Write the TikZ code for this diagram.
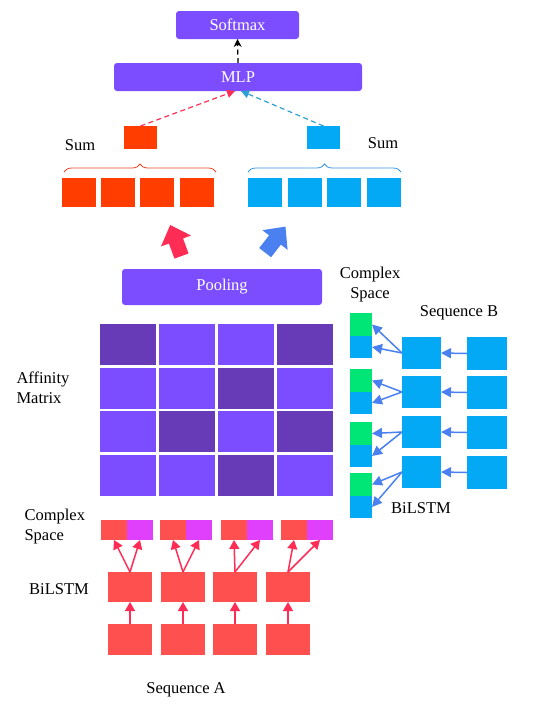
\documentclass[tikz,border=0pt]{standalone}
\usepackage{fontspec}
\setmainfont{Liberation Serif}
\usetikzlibrary{arrows.meta,decorations.pathreplacing}
\definecolor{purpL}{HTML}{7C4DFF}
\definecolor{purpD}{HTML}{673AB7}
\definecolor{sumred}{HTML}{FF3D00}
\definecolor{sumblue}{HTML}{03A9F4}
\definecolor{seqred}{HTML}{FF5050}
\definecolor{magen}{HTML}{E040FB}
\definecolor{grn}{HTML}{00E676}
\definecolor{arrred}{HTML}{FF2D55}
\definecolor{arrblue}{HTML}{4A80F0}
\definecolor{dashblue}{HTML}{2E9FD6}
\definecolor{bracered}{HTML}{E8462A}
\definecolor{braceblue}{HTML}{3A95E0}
\begin{document}
\begin{tikzpicture}[x=1pt,y=-1pt,
 box/.style={inner sep=0pt,outer sep=0pt,anchor=north west},
 bar/.style={box,fill=purpL,rounded corners=3pt,text=white,font=\fontsize{16.5}{18}\selectfont},
 lab/.style={font=\fontsize{16.5}{20}\selectfont},
 dashline/.style={dash pattern=on 5pt off 3.5pt,line width=1.2pt},
 redarr/.style={arrred,line width=1.5pt,-{Triangle[length=9pt,width=10pt]}},
 bluearr/.style={arrblue,line width=1.5pt,-{Triangle[length=10pt,width=10pt]}},
 blockarr/.pic={\fill[pic actions] (0,-17) -- (16,0) -- (7.5,0) -- (7.5,16) -- (-7.5,16) -- (-7.5,0) -- (-16,0) -- cycle;}]
\useasboundingbox (0,0) rectangle (542,705);

% top of the network
\node[bar,minimum width=123pt,minimum height=28pt] (soft) at (176,11) {Softmax};
\node[bar,minimum width=248pt,minimum height=28pt] (mlp) at (114,63) {MLP};
\draw[dashline,-{Stealth[length=8pt,width=8pt]}] (mlp.north) -- (soft.south);

% summed vectors
\node[box,fill=sumred,minimum width=33pt,minimum height=23pt] (sumA) at (124,126) {};
\node[box,fill=sumblue,minimum width=33pt,minimum height=23pt] (sumB) at (307,126) {};
\draw[dashline,arrred,-{Triangle[length=8pt,width=8pt]}] (sumA.north) -- ([xshift=-3pt]mlp.south);
\draw[dashline,dashblue,-{Triangle[length=8pt,width=8pt]}] (sumB.north) -- ([xshift=3pt]mlp.south);
\node[lab] (sumlA) at (80,145) {Sum};
\node[lab] (sumlB) at (383,143) {Sum};

\foreach \x [count=\i] in {62,101,140,180}
  \node[box,fill=sumred,minimum width=34pt,minimum height=29pt] (ra\i) at (\x,178) {};
\foreach \x [count=\i] in {248,288,327,367}
  \node[box,fill=sumblue,minimum width=34pt,minimum height=29pt] (rb\i) at (\x,178) {};
\draw[bracered,line width=0.8pt,decorate,decoration={brace,amplitude=8pt}] ([xshift=2pt,yshift=6pt]ra1.north west) -- ([xshift=2pt,yshift=6pt]ra4.north east);
\draw[braceblue,line width=0.8pt,decorate,decoration={brace,amplitude=8pt}] ([yshift=6pt]rb1.north west) -- ([yshift=6pt]rb4.north east);

% block arrows
\pic[arrred,rotate=20] at (176,241) {blockarr};
\pic[arrblue,rotate=-38] at (275,240) {blockarr};

\node[bar,minimum width=200pt,minimum height=36pt] (pool) at (122,269) {Pooling};

% affinity matrix
\foreach \r/\y/\ca/\cb/\cc/\cd in {1/324/D/L/L/D,2/368/L/L/D/L,3/411/L/D/L/D,4/455/L/L/D/L}
  \foreach \c/\x/\col in {1/100/\ca,2/159/\cb,3/218/\cc,4/277/\cd}
    \node[box,fill=purp\col,minimum width=56pt,minimum height=41pt] (m\r\c) at (\x,\y) {};
\node[lab,anchor=west,align=left] (afflab) at (13,388) {Affinity\\Matrix};

% sequence A
\foreach \x/\xh [count=\i] in {101/108,160/161,221/213,281/266}{
  \node[box,fill=seqred,minimum width=26pt,minimum height=20pt] (ca\i) at (\x,520) {};
  \node[box,fill=magen,minimum width=26pt,minimum height=20pt] (cm\i) at (\x+26,520) {};
  \node[box,fill=seqred,minimum width=44pt,minimum height=30pt] (ha\i) at (\xh,572) {};
  \node[box,fill=seqred,minimum width=44pt,minimum height=31pt] (ia\i) at (\xh,624) {};
  \draw[redarr] (ia\i.north) -- (ha\i.south);
  \draw[redarr] (ha\i.north) -- (ca\i.south);
  \draw[redarr] (ha\i.north) -- (cm\i.south);
}
\node[lab,anchor=west,align=left] (cslA) at (21,527) {Complex\\Space};
\node[lab] (bilA) at (59,589) {BiLSTM};
\node[lab] (seqA) at (186,690) {Sequence A};

% sequence B
\foreach \ys/\yh [count=\i] in {313/337,369/376,422/416,473/456}{
  \node[box,fill=grn,minimum width=22pt,minimum height=23pt] (cg\i) at (350,\ys) {};
  \node[box,fill=sumblue,minimum width=22pt,minimum height=22pt] (cb\i) at (350,\ys+23) {};
  \node[box,fill=sumblue,minimum width=39pt,minimum height=32pt] (hb\i) at (402,\yh) {};
  \node[box,fill=sumblue,minimum width=40pt,minimum height=33pt] (ib\i) at (467,\yh) {};
  \draw[bluearr] (ib\i.west) -- (hb\i.east);
  \draw[bluearr] (hb\i.west) -- (cg\i.east);
  \draw[bluearr] (hb\i.west) -- (cb\i.east);
}
\node[lab,align=center] (cslB) at (370,285) {Complex\\Space};
\node[lab] (seqB) at (459,313) {Sequence B};
\node[lab] (bilB) at (421,508) {BiLSTM};
\end{tikzpicture}
\end{document}
